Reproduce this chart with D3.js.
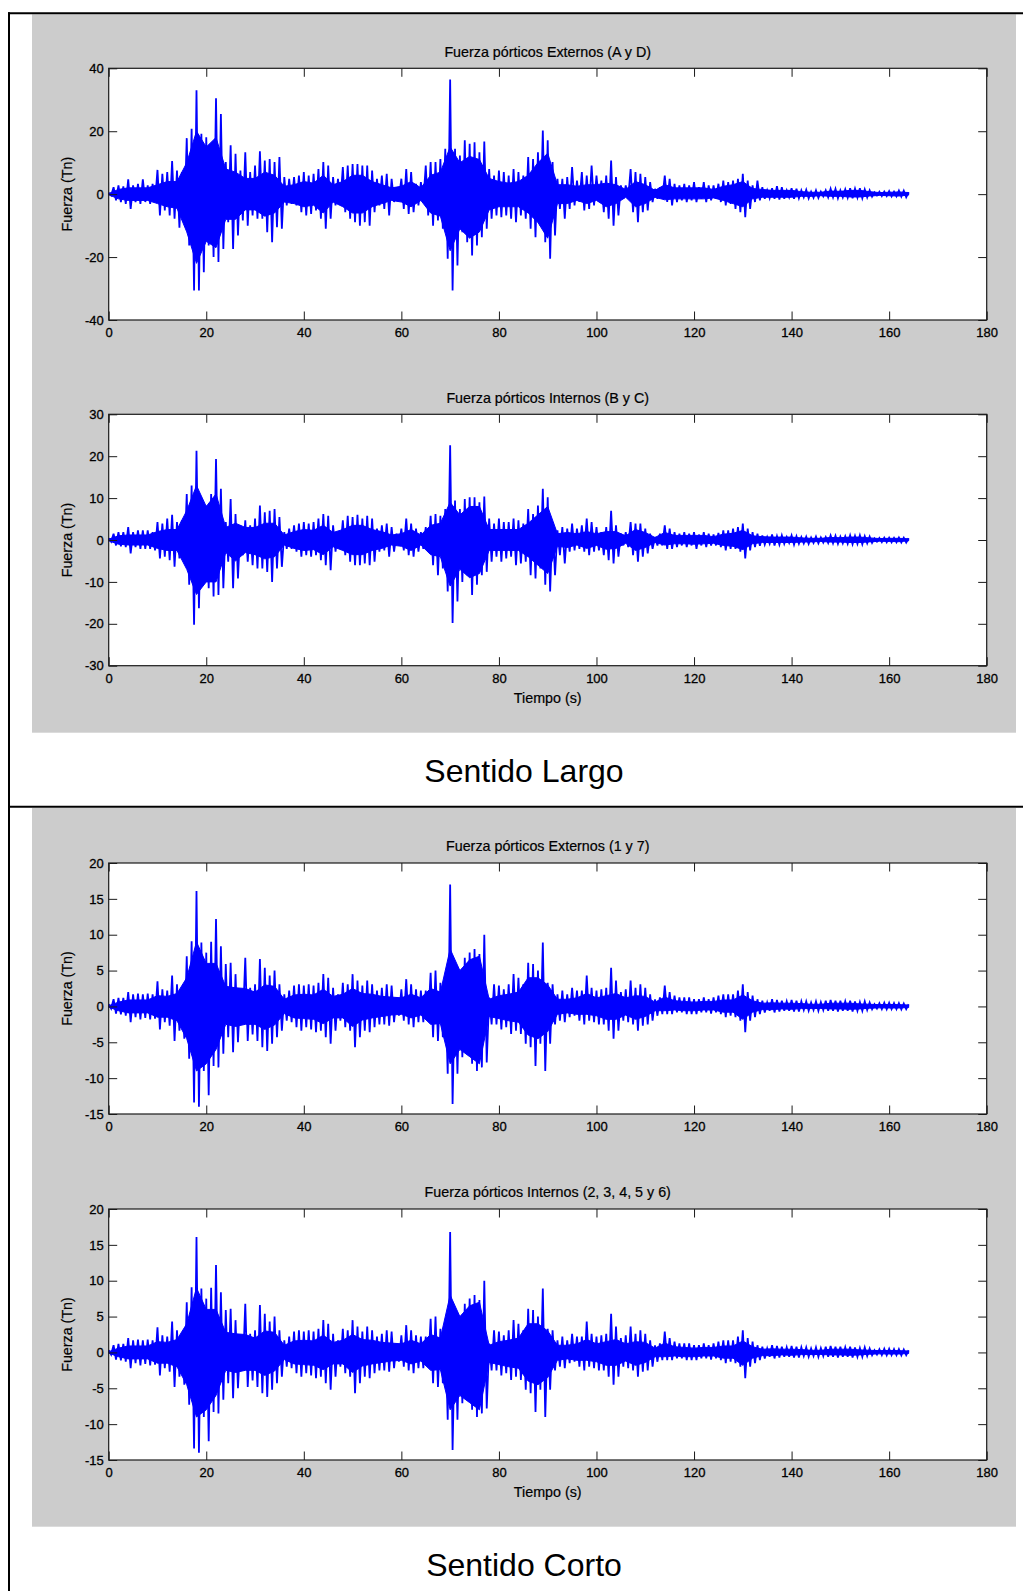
<!DOCTYPE html>
<html>
<head>
<meta charset="utf-8">
<script src="https://cdn.jsdelivr.net/npm/d3@7"></script>
<style>
  html, body { margin: 0; padding: 0; background: #ffffff; }
  svg { display: block; font-family: "Liberation Sans", Arial, Helvetica, sans-serif; }
</style>
</head>
<body>
<svg id="chart" width="1023" height="1591"></svg>
<script>
// ---------------- DATA ----------------
// peak envelope: one max and one min per second
const segundos = d3.range(0, 165);
// dense core of the record: one upper / lower level every 2 s
const segundosNucleo = d3.range(0, 165, 2);
const ejeX = [0, 20, 40, 60, 80, 100, 120, 140, 160, 180];

const titulos = [
  "Fuerza pórticos Externos (A y D)",
  "Fuerza pórticos Internos (B y C)",
  "Fuerza pórticos Externos (1 y 7)",
  "Fuerza pórticos Internos (2, 3, 4, 5 y 6)"
];
const subtitulos = ["Sentido Largo", "Sentido Corto"];
const etiquetaY = "Fuerza (Tn)";
const etiquetaX = "Tiempo (s)";

const ticksLargoExt = [-40, -20, 0, 20, 40];
const ticksLargoInt = [-30, -20, -10, 0, 10, 20, 30];
const ticksCorto = [-15, -10, -5, 0, 5, 10, 15, 20];

const externosLargoMax = [0.4,2.2,2.8,2.5,4.7,2.8,3.3,4.7,2.8,3.3,
 7.7,6.5,7.0,10.5,7.5,7.0,17.8,20.8,33.0,19.2,
 18.1,14.4,30.5,25.5,10.2,15.5,12.8,7.5,13.3,7.0,
 9.1,13.6,10.7,11.2,10.2,11.8,5.4,4.9,5.4,5.9,
 7.0,5.9,6.5,8.0,10.2,9.1,5.4,4.9,8.6,9.1,
 9.6,9.6,9.1,9.1,7.5,4.9,5.9,6.5,4.9,2.2,
 4.9,8.0,7.0,3.3,3.8,9.1,10.2,10.2,11.2,14.4,
 36.4,14.4,12.3,17.1,16.0,16.5,13.3,16.7,8.0,5.9,
 7.5,7.0,5.9,8.0,7.0,5.9,11.8,11.2,13.3,20.2,
 17.1,10.2,4.9,4.9,5.4,8.6,4.3,7.0,5.9,9.1,
 5.9,4.3,5.9,10.7,5.4,2.8,2.8,8.0,7.0,6.5,
 5.4,3.8,1.7,2.2,5.9,4.9,3.3,2.8,3.3,2.8,
 3.8,2.2,3.8,2.8,2.8,3.3,4.3,3.8,4.3,4.9,
 6.5,4.3,2.8,4.3,2.2,1.2,1.9,2.5,2.2,1.2,
 1.9,1.7,1.2,1.4,0.8,1.2,0.8,1.2,1.7,1.7,
 1.2,1.5,1.9,1.7,1.9,1.5,1.2,0.6,0.8,0.8,
 1.0,0.8,1.1,1.1,0.6];
const externosLargoMin = [-0.4,-2.0,-2.5,-3.1,-4.7,-2.5,-3.1,-2.5,-3.1,-2.5,
 -6.8,-5.2,-6.8,-7.8,-10.7,-7.8,-16.3,-30.6,-30.6,-24.8,
 -16.3,-20.0,-21.6,-17.4,-8.9,-17.4,-13.1,-8.4,-10.0,-6.8,
 -7.8,-7.8,-12.1,-15.3,-10.5,-11.0,-3.6,-3.1,-3.6,-5.7,
 -6.8,-6.3,-5.2,-7.8,-11.0,-7.8,-3.6,-2.5,-5.7,-7.8,
 -8.9,-10.0,-8.9,-10.0,-5.7,-3.6,-4.7,-6.8,-2.5,-1.5,
 -4.7,-6.3,-5.7,-3.6,-2.5,-6.8,-10.0,-8.4,-11.0,-20.5,
 -30.6,-22.7,-12.1,-15.3,-19.5,-16.3,-13.7,-11.0,-7.8,-6.8,
 -7.3,-6.8,-7.8,-8.9,-6.8,-7.8,-11.0,-13.7,-10.0,-15.3,
 -20.5,-13.1,-4.7,-7.8,-4.7,-3.6,-2.5,-5.2,-4.7,-3.6,
 -2.5,-5.7,-7.8,-10.0,-6.8,-1.5,-1.5,-5.7,-8.9,-5.7,
 -5.2,-2.5,-1.5,-1.5,-2.5,-3.6,-2.5,-2.0,-2.5,-2.0,
 -2.5,-1.5,-2.5,-2.0,-1.5,-2.5,-3.6,-3.1,-4.7,-5.7,
 -7.3,-4.7,-2.5,-2.0,-1.5,-1.3,-1.5,-1.7,-1.5,-1.0,
 -1.5,-1.3,-1.0,-1.3,-1.1,-1.2,-0.7,-1.0,-1.0,-1.3,
 -1.0,-1.1,-1.3,-1.1,-1.3,-1.0,-0.8,-0.4,-0.6,-0.6,
 -0.7,-0.7,-0.8,-1.0,-0.4];
const externosLargoNucleoSup = [0.2,1.5,2,2,2,3,4,4,10,20,
 15,18,8,7,5,5,7,6,2.5,3,
 4,3.5,6,3,4,6,6,4,3,2,
 2.5,4,2,6,7,15,10,12,11,5,
 4,3.5,4,6,10,13,3,3,2.5,3,
 3,3.5,3,1.5,4,3,1.2,3,2,2,
 2,2,1.5,2.5,3,4,1.8,1.5,1.2,1.2,
 1.2,0.8,0.6,0.6,1,0.9,1.2,1.2,0.8,0.5,
 0.6,0.7,0.5];
const externosLargoNucleoInf = [-0.2,-1.5,-2,-2,-2,-3,-4,-4.5,-12,-22,
 -15,-17,-8,-8,-5,-5,-7,-6,-2.5,-3,
 -4,-3.5,-6,-2.5,-4,-6,-6,-4,-3,-2,
 -2.5,-4,-2,-6,-7,-18,-11,-14,-12,-5,
 -4,-4,-4,-6,-9,-14,-3,-3,-2,-3,
 -2,-4,-3,-1,-4,-3,-1,-1.8,-1.5,-1.5,
 -1.5,-1.5,-1.2,-2,-3,-4,-1.5,-1,-1,-1,
 -1,-0.7,-0.7,-0.5,-0.7,-0.7,-0.9,-0.9,-0.6,-0.4,
 -0.5,-0.6,-0.3];

const internosLargoMax = [0.4,1.5,1.9,1.9,3.1,1.9,2.3,2.3,2.3,1.9,
 4.3,3.9,5.1,6.0,4.3,4.7,11.0,13.0,21.3,9.0,
 8.2,11.0,19.3,12.2,4.3,9.8,6.2,3.5,4.7,3.5,
 5.1,8.2,6.6,7.0,7.4,5.5,1.9,2.7,3.5,3.9,
 4.3,3.9,4.3,5.1,6.2,5.8,3.5,1.9,4.7,5.8,
 5.5,6.0,5.1,5.8,5.1,2.7,3.5,3.9,3.1,1.5,
 2.7,5.1,3.9,2.7,1.9,3.1,5.8,6.2,5.8,7.4,
 22.6,9.4,7.4,9.8,10.2,10.2,9.0,10.4,5.1,3.9,
 5.1,4.3,4.3,5.1,4.7,3.9,7.4,6.2,8.2,12.2,
 10.2,4.3,2.3,3.1,2.7,3.9,2.7,3.5,5.1,4.3,
 3.1,1.9,3.1,7.0,3.5,1.5,1.9,4.3,3.9,3.9,
 2.7,1.5,0.7,1.5,3.5,2.7,1.9,1.5,1.9,1.5,
 1.9,1.3,1.9,1.5,1.3,1.7,2.3,2.3,2.7,3.1,
 3.9,2.7,1.9,1.5,1.1,0.7,1.3,0.9,1.1,0.7,
 1.1,0.9,0.7,0.8,0.6,0.8,0.6,0.7,1.1,1.0,
 0.8,0.9,1.1,1.0,1.1,0.9,0.8,0.4,0.5,0.55,
 0.55,0.5,0.6,0.55,0.4];
const internosLargoMin = [-0.4,-1.3,-1.5,-1.7,-3.2,-1.7,-2.1,-2.1,-2.1,-2.5,
 -4.4,-4.0,-4.8,-6.4,-4.4,-5.2,-10.7,-20.2,-16.3,-10.0,
 -11.5,-13.5,-13.1,-11.5,-5.2,-11.5,-9.2,-3.6,-5.2,-6.0,
 -6.8,-6.8,-7.6,-10.0,-6.8,-6.4,-2.1,-2.1,-2.8,-4.0,
 -3.6,-4.0,-3.6,-4.8,-6.0,-7.2,-2.8,-2.1,-3.6,-5.2,
 -6.0,-6.0,-5.6,-6.0,-5.2,-2.8,-2.5,-4.0,-2.8,-1.3,
 -2.5,-3.6,-4.0,-2.8,-2.1,-2.8,-6.0,-8.4,-6.8,-12.3,
 -19.8,-14.7,-10.0,-8.4,-13.1,-10.7,-8.4,-7.6,-5.2,-4.0,
 -5.2,-4.4,-4.0,-6.0,-5.6,-5.2,-8.4,-9.2,-6.8,-10.7,
 -12.3,-8.4,-3.6,-5.6,-2.8,-2.5,-2.1,-2.8,-3.6,-2.8,
 -2.5,-3.6,-4.8,-5.6,-4.0,-1.3,-1.7,-3.6,-5.2,-4.0,
 -3.2,-2.1,-1.3,-1.3,-2.1,-2.1,-1.7,-1.3,-1.7,-1.3,
 -2.1,-1.3,-1.7,-1.3,-1.3,-1.7,-2.5,-2.1,-2.1,-2.8,
 -4.4,-2.5,-1.7,-1.4,-1.1,-0.9,-1.3,-1.1,-0.9,-0.7,
 -1.1,-0.9,-0.8,-0.9,-0.7,-0.8,-0.6,-0.7,-0.8,-0.9,
 -0.8,-0.9,-1.0,-0.9,-1.0,-0.8,-0.7,-0.4,-0.5,-0.55,
 -0.55,-0.55,-0.6,-0.6,-0.4];
const internosLargoNucleoSup = [0.2,1,1.2,1.2,1.2,2,2.5,2.5,7,13,
 8,11,3,4,3,3,4,4,1.2,2,
 2.5,2.3,3.5,1.8,2.5,3.5,3.5,2.5,2,1.2,
 1.5,2.5,1.2,3.5,4,9,6,8,8,2.5,
 2.5,2.5,2.5,4,6,8,1.5,1.8,1.5,2,
 1.5,2,2,1,2.5,1.8,0.6,1.8,1.1,1.1,
 1.1,1.1,0.8,1.4,1.6,2.3,1,0.8,0.7,0.7,
 0.7,0.5,0.4,0.4,0.6,0.55,0.7,0.7,0.5,0.35,
 0.4,0.4,0.3];
const internosLargoNucleoInf = [-0.2,-1,-1.2,-1.2,-1.2,-2,-2.5,-2.5,-7,-13,
 -10,-10,-3,-5,-3,-3.5,-4.5,-4,-1.2,-2,
 -2.5,-2.3,-3.5,-1.6,-2.5,-3.5,-3.5,-2.5,-2,-1.2,
 -1.5,-2.5,-1.2,-3.5,-4,-11,-7,-9,-8,-2.5,
 -2.5,-2.5,-2.5,-4,-6,-8,-1.5,-1.8,-1.2,-2,
 -1.3,-2.2,-2,-0.8,-2.5,-1.8,-0.6,-1.2,-0.9,-0.9,
 -1,-0.9,-0.8,-1.3,-1.5,-2.3,-0.9,-0.6,-0.6,-0.6,
 -0.6,-0.5,-0.45,-0.35,-0.5,-0.5,-0.6,-0.6,-0.45,-0.3,
 -0.35,-0.4,-0.2];

const externosCortoMax = [0.3,1.0,1.2,1.2,2.0,1.7,1.8,1.7,1.8,1.7,
 3.5,2.4,2.2,4.3,3.1,2.0,7.0,9.1,16.1,8.9,
 7.5,9.0,12.2,8.4,5.9,6.1,4.5,2.2,6.8,2.6,
 3.1,6.6,5.4,4.3,5.0,3.1,1.7,2.2,2.9,3.1,
 2.9,3.1,2.9,3.3,4.5,4.0,2.6,1.7,3.3,3.1,
 4.5,3.6,2.9,3.6,3.1,2.2,2.6,3.1,2.9,1.25,
 2.4,3.8,3.1,2.4,2.2,2.2,4.7,5.0,3.3,3.1,
 17.0,4.0,5.0,6.8,7.5,8.0,7.3,10.0,1.25,3.1,
 2.9,2.4,3.1,4.5,4.0,3.1,6.1,5.9,5.0,8.9,
 3.3,3.1,1.7,2.2,1.7,2.6,2.2,2.2,4.3,2.6,
 2.2,2.4,2.6,5.4,3.6,2.0,2.4,3.6,2.6,3.1,
 2.6,1.7,1.0,1.25,2.9,2.0,1.5,1.25,1.25,1.25,
 1.0,1.0,1.25,1.0,1.25,1.5,1.7,1.7,1.7,2.2,
 3.1,2.0,1.5,1.0,0.8,0.55,1.0,0.9,0.8,0.7,
 0.9,0.8,0.7,0.7,0.55,0.7,0.6,0.8,0.9,0.8,
 0.8,0.7,0.8,0.7,0.6,0.7,0.55,0.3,0.45,0.5,
 0.5,0.45,0.45,0.4,0.3];
const externosCortoMin = [-0.3,-1.0,-1.1,-1.3,-2.2,-1.5,-1.8,-1.6,-1.8,-1.7,
 -3.2,-2.2,-2.7,-4.8,-3.4,-4.5,-7.3,-13.4,-14.0,-9.0,
 -12.4,-8.3,-8.5,-6.6,-4.3,-6.4,-5.0,-2.5,-4.8,-3.9,
 -4.8,-5.7,-6.2,-5.2,-4.3,-3.4,-2.0,-2.2,-2.9,-3.4,
 -2.9,-3.2,-3.6,-3.4,-4.3,-5.2,-3.4,-2.0,-2.9,-3.4,
 -5.7,-4.3,-3.4,-3.6,-2.9,-2.5,-2.5,-2.7,-2.2,-1.3,
 -2.0,-2.5,-2.9,-2.2,-2.2,-2.0,-4.3,-4.8,-4.3,-9.4,
 -13.6,-9.4,-7.1,-6.6,-8.0,-9.0,-8.5,-7.8,-2.5,-2.5,
 -3.2,-2.9,-3.85,-3.4,-3.85,-5.2,-5.7,-8.3,-5.2,-9.0,
 -5.2,-2.5,-2.0,-2.2,-1.5,-1.3,-2.0,-2.5,-2.0,-2.2,
 -2.5,-2.5,-3.4,-4.5,-3.4,-2.0,-2.2,-2.5,-3.4,-2.7,
 -2.5,-2.0,-1.3,-1.07,-1.07,-1.07,-0.84,-0.84,-1.07,-1.07,
 -1.07,-0.84,-0.84,-1.0,-0.84,-1.07,-1.5,-1.3,-1.5,-2.0,
 -3.6,-2.0,-1.5,-1.07,-0.84,-0.6,-0.84,-0.7,-0.6,-0.6,
 -0.7,-0.7,-0.5,-0.6,-0.5,-0.6,-0.5,-0.6,-0.6,-0.7,
 -0.6,-0.6,-0.7,-0.6,-0.6,-0.5,-0.4,-0.3,-0.37,-0.4,
 -0.37,-0.37,-0.4,-0.37,-0.3];
const externosCortoNucleoSup = [0.1,0.6,0.9,0.9,0.9,1.5,1.4,1.8,4,9,
 6,6,2.8,2.6,2.5,2,3,2.8,1,1.6,
 1.7,1.6,2.4,1.4,1.7,2.5,1.8,1.7,1.4,1.3,
 1.2,1.7,1.2,2.5,2,8,5,6.5,7,1,
 1.5,1.7,2,4,4,3,1,1,1.2,1.8,
 1.2,1.5,1.8,1.2,1.5,1.4,0.6,1.3,0.8,0.7,
 0.6,0.7,0.7,0.9,0.9,1.6,0.8,0.45,0.5,0.45,
 0.45,0.4,0.3,0.3,0.45,0.45,0.45,0.35,0.3,0.25,
 0.28,0.25,0.2];
const externosCortoNucleoInf = [-0.1,-0.6,-0.9,-0.9,-0.9,-1.5,-1.5,-2,-4.5,-9,
 -8,-6,-2.5,-2.8,-2.5,-2.5,-3.2,-2.6,-1,-1.6,
 -1.7,-1.8,-2.4,-1.6,-1.6,-2.8,-1.9,-1.6,-1.4,-1.2,
 -1.1,-1.6,-1.2,-2.5,-2.4,-8,-6,-7,-8,-1.4,
 -1.7,-2,-2.2,-4,-4.5,-3.5,-1.1,-0.9,-1.1,-1.1,
 -1.3,-1.8,-1.8,-1.2,-1.8,-1.4,-0.6,-0.6,-0.5,-0.6,
 -0.6,-0.5,-0.5,-0.8,-0.8,-1.8,-0.8,-0.45,-0.45,-0.35,
 -0.4,-0.3,-0.3,-0.28,-0.35,-0.35,-0.4,-0.35,-0.25,-0.2,
 -0.22,-0.22,-0.15];

const internosCortoMax = [0.3,1.0,1.2,1.2,2.0,1.7,1.8,1.7,1.8,1.7,
 3.5,2.4,2.2,4.3,3.1,2.0,7.0,9.1,16.1,8.9,
 7.5,9.0,12.2,8.4,5.9,6.1,4.5,2.2,6.8,2.6,
 3.1,6.6,5.4,4.3,5.0,3.1,1.7,2.2,2.9,3.1,
 2.9,3.1,2.9,3.3,4.5,4.0,2.6,1.7,3.3,3.1,
 4.5,3.6,2.9,3.6,3.1,2.2,2.6,3.1,2.9,1.25,
 2.4,3.8,3.1,2.4,2.2,2.2,4.7,5.0,3.3,3.1,
 16.8,4.0,5.0,6.8,7.5,8.0,7.3,10.0,1.25,3.1,
 2.9,2.4,3.1,4.5,4.0,3.1,6.1,5.9,5.0,8.9,
 3.3,3.1,1.7,2.2,1.7,2.6,2.2,2.2,4.3,2.6,
 2.2,2.4,2.6,5.4,3.6,2.0,2.4,3.6,2.6,3.1,
 2.6,1.7,1.0,1.25,2.9,2.0,1.5,1.25,1.25,1.25,
 1.0,1.0,1.25,1.0,1.25,1.5,1.7,1.7,1.7,2.2,
 3.1,2.0,1.5,1.0,0.8,0.55,1.0,0.9,0.8,0.7,
 0.9,0.8,0.7,0.7,0.55,0.7,0.6,0.8,0.9,0.8,
 0.8,0.7,0.8,0.7,0.6,0.7,0.55,0.3,0.45,0.5,
 0.5,0.45,0.45,0.4,0.3];
const internosCortoMin = [-0.3,-1.0,-1.1,-1.3,-2.2,-1.5,-1.8,-1.6,-1.8,-1.7,
 -3.2,-2.2,-2.7,-4.8,-3.4,-4.5,-7.3,-13.4,-14.0,-9.0,
 -12.4,-8.3,-8.5,-6.6,-4.3,-6.4,-5.0,-2.5,-4.8,-3.9,
 -4.8,-5.7,-6.2,-5.2,-4.3,-3.4,-2.0,-2.2,-2.9,-3.4,
 -2.9,-3.2,-3.6,-3.4,-4.3,-5.2,-3.4,-2.0,-2.9,-3.4,
 -5.7,-4.3,-3.4,-3.6,-2.9,-2.5,-2.5,-2.7,-2.2,-1.3,
 -2.0,-2.5,-2.9,-2.2,-2.2,-2.0,-4.3,-4.8,-4.3,-9.4,
 -13.6,-9.4,-7.1,-6.6,-8.0,-9.0,-8.5,-7.8,-2.5,-2.5,
 -3.2,-2.9,-3.85,-3.4,-3.85,-5.2,-5.7,-8.3,-5.2,-9.0,
 -5.2,-2.5,-2.0,-2.2,-1.5,-1.3,-2.0,-2.5,-2.0,-2.2,
 -2.5,-2.5,-3.4,-4.5,-3.4,-2.0,-2.2,-2.5,-3.4,-2.7,
 -2.5,-2.0,-1.3,-1.07,-1.07,-1.07,-0.84,-0.84,-1.07,-1.07,
 -1.07,-0.84,-0.84,-1.0,-0.84,-1.07,-1.5,-1.3,-1.5,-2.0,
 -3.6,-2.0,-1.5,-1.07,-0.84,-0.6,-0.84,-0.7,-0.6,-0.6,
 -0.7,-0.7,-0.5,-0.6,-0.5,-0.6,-0.5,-0.6,-0.6,-0.7,
 -0.6,-0.6,-0.7,-0.6,-0.6,-0.5,-0.4,-0.3,-0.37,-0.4,
 -0.37,-0.37,-0.4,-0.37,-0.3];
const internosCortoNucleoSup = [0.1,0.6,0.9,0.9,0.9,1.5,1.4,1.8,4,9,
 6,6,2.8,2.6,2.5,2,3,2.8,1,1.6,
 1.7,1.6,2.4,1.4,1.7,2.5,1.8,1.7,1.4,1.3,
 1.2,1.7,1.2,2.5,2,8,5,6.5,7,1,
 1.5,1.7,2,4,4,3,1,1,1.2,1.8,
 1.2,1.5,1.8,1.2,1.5,1.4,0.6,1.3,0.8,0.7,
 0.6,0.7,0.7,0.9,0.9,1.6,0.8,0.45,0.5,0.45,
 0.45,0.4,0.3,0.3,0.45,0.45,0.45,0.35,0.3,0.25,
 0.28,0.25,0.2];
const internosCortoNucleoInf = [-0.1,-0.6,-0.9,-0.9,-0.9,-1.5,-1.5,-2,-4.5,-9,
 -8,-6,-2.5,-2.8,-2.5,-2.5,-3.2,-2.6,-1,-1.6,
 -1.7,-1.8,-2.4,-1.6,-1.6,-2.8,-1.9,-1.6,-1.4,-1.2,
 -1.1,-1.6,-1.2,-2.5,-2.4,-8,-6,-7,-8,-1.4,
 -1.7,-2,-2.2,-4,-4.5,-3.5,-1.1,-0.9,-1.1,-1.1,
 -1.3,-1.8,-1.8,-1.2,-1.8,-1.4,-0.6,-0.6,-0.5,-0.6,
 -0.6,-0.5,-0.5,-0.8,-0.8,-1.8,-0.8,-0.45,-0.45,-0.35,
 -0.4,-0.3,-0.3,-0.28,-0.35,-0.35,-0.4,-0.35,-0.25,-0.2,
 -0.22,-0.22,-0.15];

// ---------------- LAYOUT ----------------
const svg = d3.select("#chart");
const AX_L = 108.7, AX_R = 986.7;
const BLUE = "#0000ff";

const graficos = [
  { titulo: titulos[0], max: externosLargoMax, min: externosLargoMin, nSup: externosLargoNucleoSup, nInf: externosLargoNucleoInf, dom: [-40, 40], ticks: ticksLargoExt, top: 68.3, bottom: 320, xlab: false },
  { titulo: titulos[1], max: internosLargoMax, min: internosLargoMin, nSup: internosLargoNucleoSup, nInf: internosLargoNucleoInf, dom: [-30, 30], ticks: ticksLargoInt, top: 414.3, bottom: 665.7, xlab: true },
  { titulo: titulos[2], max: externosCortoMax, min: externosCortoMin, nSup: externosCortoNucleoSup, nInf: externosCortoNucleoInf, dom: [-15, 20], ticks: ticksCorto, top: 863, bottom: 1114, xlab: false },
  { titulo: titulos[3], max: internosCortoMax, min: internosCortoMin, nSup: internosCortoNucleoSup, nInf: internosCortoNucleoInf, dom: [-15, 20], ticks: ticksCorto, top: 1209, bottom: 1460, xlab: true }
];

// grey figure panels
const paneles = [{ y0: 14.3, y1: 732.7 }, { y0: 808, y1: 1526.7 }];
svg.selectAll("rect.panel").data(paneles).join("rect")
  .attr("class", "panel")
  .attr("x", 32).attr("width", 1016 - 32)
  .attr("y", d => d.y0).attr("height", d => d.y1 - d.y0)
  .attr("fill", "#cccccc");

// table borders
const borde = svg.append("g").attr("stroke", "#000").attr("stroke-width", 2).attr("fill", "none");
borde.append("line").attr("x1", 9).attr("x2", 9).attr("y1", 12.3).attr("y2", 1591);
borde.append("line").attr("x1", 8).attr("x2", 1023).attr("y1", 13.3).attr("y2", 13.3);
borde.append("line").attr("x1", 8).attr("x2", 1023).attr("y1", 806.8).attr("y2", 806.8);

// captions
svg.selectAll("text.sub").data([{ t: subtitulos[0], y: 781.5 }, { t: subtitulos[1], y: 1575.5 }]).join("text")
  .attr("class", "sub")
  .attr("x", 524).attr("y", d => d.y)
  .attr("text-anchor", "middle")
  .attr("font-size", "32px").attr("fill", "#000")
  .text(d => d.t);

const x = d3.scaleLinear().domain([0, 180]).range([AX_L, AX_R]);

graficos.forEach(g => {
  const y = d3.scaleLinear().domain(g.dom).range([g.bottom, g.top]);
  const gr = svg.append("g");

  gr.append("rect")
    .attr("x", AX_L).attr("y", g.top)
    .attr("width", AX_R - AX_L).attr("height", g.bottom - g.top)
    .attr("fill", "#ffffff");

  // dense core of the record
  const nucleo = segundosNucleo.map((t, i) => ({ t: t, hi: g.nSup[i], lo: g.nInf[i] }));
  gr.append("path")
    .datum(nucleo)
    .attr("d", d3.area().x(d => x(d.t)).y0(d => y(d.lo)).y1(d => y(d.hi)))
    .attr("fill", BLUE)
    .attr("stroke", BLUE)
    .attr("stroke-width", 1);

  // peaks: each second's positive peak followed by its negative peak
  const serie = [];
  segundos.forEach((t, i) => {
    serie.push({ t: t, v: g.max[i] });
    if (i < segundos.length - 1) serie.push({ t: t + 0.5, v: g.min[i] });
  });
  gr.append("path")
    .datum(serie)
    .attr("d", d3.line().x(d => x(d.t)).y(d => y(d.v)))
    .attr("fill", "none")
    .attr("stroke", BLUE)
    .attr("stroke-width", 1.8)
    .attr("stroke-linejoin", "miter")
    .attr("stroke-miterlimit", 4);

  const fmt = d => String(d);
  const TK = 8.5;

  const axB = gr.append("g").attr("transform", `translate(0,${g.bottom})`)
    .call(d3.axisBottom(x).tickValues(ejeX).tickSizeInner(-TK).tickSizeOuter(0).tickPadding(8).tickFormat(fmt));
  const axT = gr.append("g").attr("transform", `translate(0,${g.top})`)
    .call(d3.axisTop(x).tickValues(ejeX).tickSizeInner(-TK).tickSizeOuter(0).tickFormat(""));
  const axL = gr.append("g").attr("transform", `translate(${AX_L},0)`)
    .call(d3.axisLeft(y).tickValues(g.ticks).tickSizeInner(-TK).tickSizeOuter(0).tickPadding(5).tickFormat(fmt));
  const axR = gr.append("g").attr("transform", `translate(${AX_R},0)`)
    .call(d3.axisRight(y).tickValues(g.ticks).tickSizeInner(-TK).tickSizeOuter(0).tickFormat(""));

  [axB, axT, axL, axR].forEach(a => {
    a.select(".domain").remove();
    a.selectAll(".tick line").attr("stroke", "#1a1a1a").attr("stroke-width", 1);
    a.selectAll(".tick text").attr("font-size", "13px").attr("fill", "#000")
      .attr("stroke", "#000").attr("stroke-width", 0.3)
      .attr("font-family", "'Liberation Sans', Arial, sans-serif");
  });

  gr.append("rect")
    .attr("x", AX_L).attr("y", g.top)
    .attr("width", AX_R - AX_L).attr("height", g.bottom - g.top)
    .attr("fill", "none").attr("stroke", "#1a1a1a").attr("stroke-width", 1.2);

  gr.append("text")
    .attr("x", (AX_L + AX_R) / 2).attr("y", g.top - 11.8)
    .attr("text-anchor", "middle").attr("font-size", "14.3px").attr("fill", "#000")
    .attr("stroke", "#000").attr("stroke-width", 0.2)
    .text(g.titulo);

  gr.append("text")
    .attr("transform", `translate(72,${(g.top + g.bottom) / 2}) rotate(-90)`)
    .attr("text-anchor", "middle").attr("font-size", "14.3px").attr("fill", "#000")
    .attr("stroke", "#000").attr("stroke-width", 0.2)
    .text(etiquetaY);

  if (g.xlab) {
    gr.append("text")
      .attr("x", (AX_L + AX_R) / 2).attr("y", g.bottom + 36.8)
      .attr("text-anchor", "middle").attr("font-size", "14.3px").attr("fill", "#000")
      .attr("stroke", "#000").attr("stroke-width", 0.2)
      .text(etiquetaX);
  }
});
</script>
</body>
</html>
